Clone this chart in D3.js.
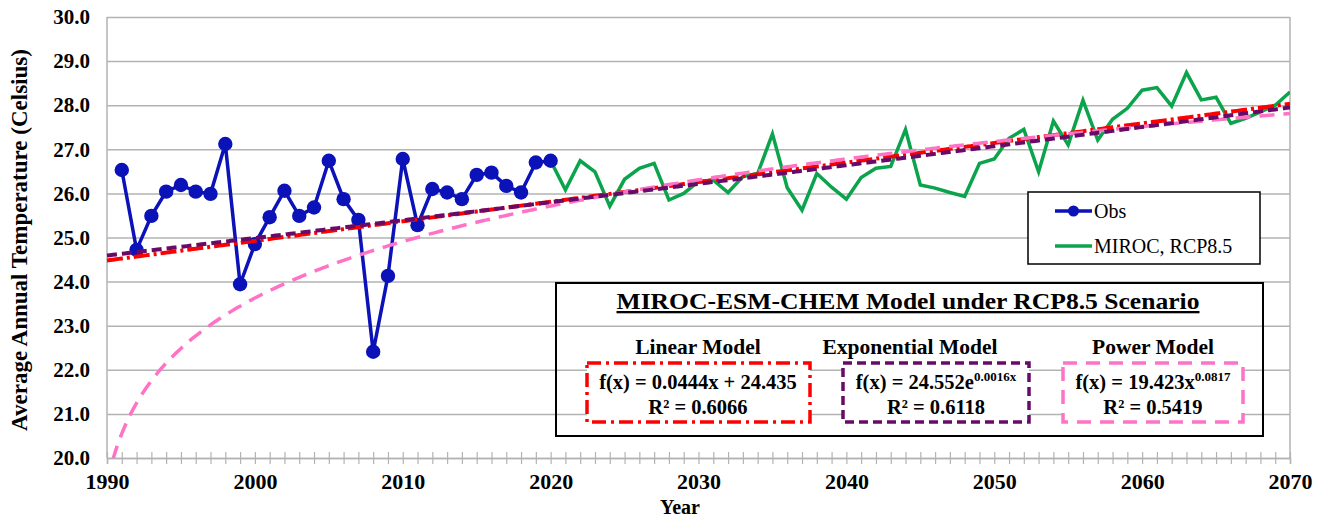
<!DOCTYPE html>
<html><head><meta charset="utf-8">
<script src="https://cdn.jsdelivr.net/npm/d3@7"></script>
<style>
body{margin:0;background:#fff}
svg{display:block}
text{font-family:"Liberation Serif","Times New Roman",serif;}
</style>
</head><body><svg id="c" width="1325" height="521"></svg>
<script>
// ---------- data ----------
const obsYears = [1991,1992,1993,1994,1995,1996,1997,1998,1999,2000,2001,2002,2003,2004,2005,2006,2007,2008,2009,2010,2011,2012,2013,2014,2015,2016,2017,2018,2019,2020];
const obsValues = [26.53,24.72,25.49,26.04,26.19,26.04,25.99,27.12,23.94,24.85,25.46,26.06,25.49,25.68,26.74,25.87,25.40,22.41,24.13,26.78,25.28,26.10,26.02,25.87,26.42,26.47,26.17,26.02,26.70,26.74];
const mirocYears = [2020,2021,2022,2023,2024,2025,2026,2027,2028,2029,2030,2031,2032,2033,2034,2035,2036,2037,2038,2039,2040,2041,2042,2043,2044,2045,2046,2047,2048,2049,2050,2051,2052,2053,2054,2055,2056,2057,2058,2059,2060,2061,2062,2063,2064,2065,2066,2067,2068,2069,2070];
const mirocValues = [26.74,26.08,26.74,26.49,25.71,26.32,26.57,26.68,25.85,26.00,26.27,26.30,26.02,26.38,26.45,27.35,26.13,25.62,26.45,26.14,25.87,26.36,26.57,26.61,27.45,26.19,26.12,26.02,25.93,26.68,26.78,27.25,27.45,26.49,27.64,27.10,28.11,27.21,27.68,27.93,28.34,28.40,27.98,28.74,28.12,28.18,27.59,27.70,27.85,28.00,28.30];
const seriesNames = ["Obs", "MIROC, RCP8.5"];
const yTickValues = [20,21,22,23,24,25,26,27,28,29,30];
const xTickLabels = [1990,2000,2010,2020,2030,2040,2050,2060,2070];
const xDomain = [1990, 2070];
const yDomain = [20, 30];
// trend models as printed on the chart, x = year - 1989
const trendBaseYear = 1989;
const linearCoef = [0.0444, 24.435];
const expCoef = [24.552, 0.0016];
const powerCoef = [19.423, 0.0817];
const boxTitle = "MIROC-ESM-CHEM Model under RCP8.5 Scenario";
const modelNames = ["Linear Model", "Exponential Model", "Power Model"];
const r2Labels = ["R² = 0.6066", "R² = 0.6118", "R² = 0.5419"];

// ---------- layout ----------
const svg = d3.select("#c");
const L = 107, R = 1290, T = 17, B = 458;
const x = d3.scaleLinear().domain(xDomain).range([L, R]);
const y = d3.scaleLinear().domain(yDomain).range([B, T]);
const grid = "#b3b3b3";

svg.append("defs").append("clipPath").attr("id","clip")
  .append("rect").attr("x",L).attr("y",T).attr("width",R-L).attr("height",B-T);

// y axis with gridlines
const yAx = svg.append("g").attr("transform",`translate(${L},0)`)
  .call(d3.axisLeft(y).tickValues(yTickValues).tickFormat(d3.format(".1f")).tickSize(-(R-L)).tickPadding(17));
yAx.select(".domain").remove();
yAx.selectAll(".tick line").attr("stroke",grid).attr("stroke-width",1.5);
yAx.selectAll(".tick text").attr("font-size",21).attr("font-weight","bold").attr("fill","#000")
  .style("font-family",'"Liberation Serif",serif');

// left axis line and right border
svg.append("line").attr("x1",L).attr("x2",L).attr("y1",T).attr("y2",B).attr("stroke",grid).attr("stroke-width",1.5);
svg.append("line").attr("x1",R).attr("x2",R).attr("y1",T).attr("y2",B).attr("stroke",grid).attr("stroke-width",1.5);

// x axis: minor tick each year, labels each decade
const allYears = d3.range(xDomain[0], xDomain[1]+1);
const xAx = svg.append("g").attr("transform",`translate(0,${B})`)
  .call(d3.axisBottom(x).tickValues(allYears)
    .tickFormat(d => xTickLabels.includes(d) ? String(d) : "")
    .tickSize(6).tickPadding(9));
xAx.select(".domain").attr("stroke",grid).attr("stroke-width",1.5);
xAx.selectAll(".tick line").attr("stroke",grid).attr("stroke-width",1.2).attr("y1",-6).attr("y2",6);
xAx.selectAll(".tick text").attr("font-size",22).attr("font-weight","bold").attr("fill","#000")
  .style("font-family",'"Liberation Serif",serif');

// axis titles
svg.append("text").attr("x",680).attr("y",514).attr("text-anchor","middle")
  .attr("font-size",20).attr("font-weight","bold").text("Year");
svg.append("text").attr("transform","translate(27,240) rotate(-90)").attr("text-anchor","middle")
  .attr("font-size",23).attr("font-weight","bold").text("Average Annual Temperature (Celsius)");

// ---------- data series ----------
const plot = svg.append("g").attr("clip-path","url(#clip)");
const blue = "#0a12b8", green = "#0ba44c";
const obs = obsYears.map((yr,i)=>({yr, v: obsValues[i]}));
const mir = mirocYears.map((yr,i)=>({yr, v: mirocValues[i]}));
const line = d3.line().x(d=>x(d.yr)).y(d=>y(d.v));

plot.append("path").datum(mir).attr("d",line).attr("fill","none").attr("stroke",green).attr("stroke-width",3.5).attr("stroke-linejoin","miter");
plot.append("path").datum(obs).attr("d",line).attr("fill","none").attr("stroke",blue).attr("stroke-width",3.5);
plot.selectAll("circle.obs").data(obs).join("circle").attr("class","obs")
  .attr("cx",d=>x(d.yr)).attr("cy",d=>y(d.v)).attr("r",7.2).attr("fill",blue);

// ---------- trend lines ----------
const ts = d3.range(xDomain[0], xDomain[1]+0.001, 0.2);
const linF = t => linearCoef[0]*(t-trendBaseYear) + linearCoef[1];
const expF = t => expCoef[0]*Math.exp(expCoef[1]*(t-trendBaseYear));
const powF = t => powerCoef[0]*Math.pow(t-trendBaseYear, powerCoef[1]);
const tline = f => d3.line().x(t=>x(t)).y(t=>y(f(t)))(ts);

plot.append("path").attr("d",tline(linF)).attr("fill","none").attr("stroke","#ff0000").attr("stroke-width",4).attr("stroke-dasharray","16,4,3,4");
plot.append("path").attr("d",tline(powF)).attr("fill","none").attr("stroke","#ff73c6").attr("stroke-width",3.5).attr("stroke-dasharray","15,9");
plot.append("path").attr("d",tline(expF)).attr("fill","none").attr("stroke","#6a0a68").attr("stroke-width",4).attr("stroke-dasharray","10,5");

// ---------- legend ----------
const lg = svg.append("g");
lg.append("rect").attr("x",1028).attr("y",192).attr("width",232).attr("height",72)
  .attr("fill","#fff").attr("stroke","#000").attr("stroke-width",1.5);
const legColors = [blue, green];
seriesNames.forEach((n,i)=>{
  const yy = 211 + i*35;
  lg.append("line").attr("x1",1055).attr("x2",1092).attr("y1",yy).attr("y2",yy).attr("stroke",legColors[i]).attr("stroke-width",3.5);
  if(i===0) lg.append("circle").attr("cx",1073.5).attr("cy",yy).attr("r",5.5).attr("fill",blue);
  lg.append("text").attr("x",1094).attr("y",yy+7).attr("font-size",20).text(n);
});

// ---------- equation box ----------
const eb = svg.append("g");
eb.append("rect").attr("x",556).attr("y",283).attr("width",707).attr("height",153)
  .attr("fill","none").attr("stroke","#000").attr("stroke-width",2);
eb.append("text").attr("x",908).attr("y",309).attr("text-anchor","middle").attr("font-size",23)
  .attr("font-weight","bold").attr("text-decoration","underline")
  .attr("textLength",583).attr("lengthAdjust","spacingAndGlyphs").text(boxTitle);
const cx = [698, 936, 1153];
modelNames.forEach((n,i)=>{
  eb.append("text").attr("x",cx[i] - (i===1?26:0)).attr("y",354).attr("text-anchor","middle").attr("font-size",21.5)
    .attr("font-weight","bold").text(n);
});
const boxes = [
  {x0:587,x1:810,col:"#ff0000",dash:"14,5,3,5"},
  {x0:843,x1:1029,col:"#6a0a68",dash:"9,5"},
  {x0:1063,x1:1243,col:"#ff73c6",dash:"14,9"}
];
boxes.forEach(b=>{
  eb.append("rect").attr("x",b.x0).attr("y",363).attr("width",b.x1-b.x0).attr("height",59)
    .attr("fill","#fff").attr("stroke",b.col).attr("stroke-width",3.5).attr("stroke-dasharray",b.dash);
});
// equations
const eq1 = eb.append("text").attr("x",cx[0]).attr("y",389).attr("text-anchor","middle").attr("font-size",20.5).attr("font-weight","bold");
eq1.text(`f(x) = ${linearCoef[0]}x + ${linearCoef[1]}`);
const eq2 = eb.append("text").attr("x",cx[1]).attr("y",389).attr("text-anchor","middle").attr("font-size",20.5).attr("font-weight","bold");
eq2.append("tspan").text(`f(x) = ${expCoef[0]}e`);
eq2.append("tspan").attr("font-size",13).attr("dy",-8).text(`${expCoef[1].toFixed(4)}x`);
const eq3 = eb.append("text").attr("x",cx[2]).attr("y",389).attr("text-anchor","middle").attr("font-size",20.5).attr("font-weight","bold");
eq3.append("tspan").text(`f(x) = ${powerCoef[0]}x`);
eq3.append("tspan").attr("font-size",13).attr("dy",-8).text(`${powerCoef[1]}`);
r2Labels.forEach((r,i)=>{
  eb.append("text").attr("x",cx[i]).attr("y",414).attr("text-anchor","middle").attr("font-size",20.5)
    .attr("font-weight","bold").text(r);
});
</script>
</body></html>
